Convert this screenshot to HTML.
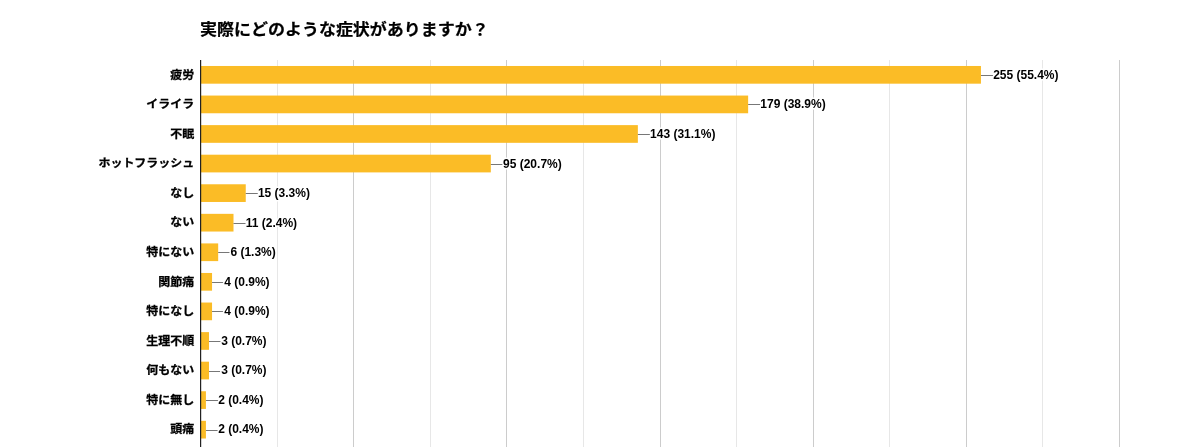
<!DOCTYPE html>
<html lang="ja"><head><meta charset="utf-8"><title>chart</title>
<style>html,body{margin:0;padding:0;background:#fff;}body{width:1200px;height:447px;overflow:hidden;}svg{display:block;}text{font-family:"Liberation Sans", "Noto Sans CJK JP", sans-serif;font-weight:bold;}</style></head><body>
<svg width="1200" height="447" viewBox="0 0 1200 447">
<rect width="1200" height="447" fill="#ffffff"/>
<text transform="translate(200 34.7) scale(1 0.94)" font-size="17" fill="#000" stroke="#000" stroke-width="0.25">実際にどのような症状がありますか？</text>
<rect x="277" y="60" width="1" height="387" fill="#e7e7e7"/>
<rect x="353" y="60" width="1" height="387" fill="#cccccc"/>
<rect x="430" y="60" width="1" height="387" fill="#e7e7e7"/>
<rect x="506" y="60" width="1" height="387" fill="#cccccc"/>
<rect x="583" y="60" width="1" height="387" fill="#e7e7e7"/>
<rect x="660" y="60" width="1" height="387" fill="#cccccc"/>
<rect x="736" y="60" width="1" height="387" fill="#e7e7e7"/>
<rect x="813" y="60" width="1" height="387" fill="#cccccc"/>
<rect x="889" y="60" width="1" height="387" fill="#e7e7e7"/>
<rect x="966" y="60" width="1" height="387" fill="#cccccc"/>
<rect x="1042" y="60" width="1" height="387" fill="#e7e7e7"/>
<rect x="1119" y="60" width="1" height="387" fill="#cccccc"/>
<rect x="200.5" y="65.98" width="780.45" height="17.7" fill="#fbbc26"/>
<rect x="980.95" y="75.00" width="12" height="1" fill="#777"/>
<text x="993.15" y="78.53" font-size="12" fill="#000" stroke="#ffffff" stroke-width="3" stroke-linejoin="round" paint-order="stroke">255 (55.4%)</text>
<text transform="translate(194.3 78.63) scale(1 0.92)" font-size="12" fill="#000" stroke="#000" stroke-width="0.3" text-anchor="end">疲労</text>
<rect x="200.5" y="95.56" width="547.64" height="17.7" fill="#fbbc26"/>
<rect x="748.14" y="104.00" width="12" height="1" fill="#777"/>
<text x="760.34" y="108.11" font-size="12" fill="#000" stroke="#ffffff" stroke-width="3" stroke-linejoin="round" paint-order="stroke">179 (38.9%)</text>
<text transform="translate(194.3 108.20) scale(1 0.92)" font-size="12" fill="#000" stroke="#000" stroke-width="0.3" text-anchor="end">イライラ</text>
<rect x="200.5" y="125.12" width="437.36" height="17.7" fill="#fbbc26"/>
<rect x="637.86" y="134.00" width="12" height="1" fill="#777"/>
<text x="650.06" y="137.67" font-size="12" fill="#000" stroke="#ffffff" stroke-width="3" stroke-linejoin="round" paint-order="stroke">143 (31.1%)</text>
<text transform="translate(194.3 137.78) scale(1 0.92)" font-size="12" fill="#000" stroke="#000" stroke-width="0.3" text-anchor="end">不眠</text>
<rect x="200.5" y="154.70" width="290.32" height="17.7" fill="#fbbc26"/>
<rect x="490.82" y="164.00" width="12" height="1" fill="#777"/>
<text x="503.02" y="168.25" font-size="12" fill="#000" stroke="#ffffff" stroke-width="3" stroke-linejoin="round" paint-order="stroke">95 (20.7%)</text>
<text transform="translate(194.3 167.35) scale(1 0.92)" font-size="12" fill="#000" stroke="#000" stroke-width="0.3" text-anchor="end">ホットフラッシュ</text>
<rect x="200.5" y="184.27" width="45.25" height="17.7" fill="#fbbc26"/>
<rect x="245.75" y="193.00" width="12" height="1" fill="#777"/>
<text x="257.95" y="196.81" font-size="12" fill="#000" stroke="#ffffff" stroke-width="3" stroke-linejoin="round" paint-order="stroke">15 (3.3%)</text>
<text transform="translate(194.3 196.92) scale(1 0.92)" font-size="12" fill="#000" stroke="#000" stroke-width="0.3" text-anchor="end">なし</text>
<rect x="200.5" y="213.84" width="33.00" height="17.7" fill="#fbbc26"/>
<rect x="233.50" y="223.00" width="12" height="1" fill="#777"/>
<text x="245.70" y="226.78" font-size="12" fill="#000" stroke="#ffffff" stroke-width="3" stroke-linejoin="round" paint-order="stroke">11 (2.4%)</text>
<text transform="translate(194.3 226.49) scale(1 0.92)" font-size="12" fill="#000" stroke="#000" stroke-width="0.3" text-anchor="end">ない</text>
<rect x="200.5" y="243.41" width="17.68" height="17.7" fill="#fbbc26"/>
<rect x="218.18" y="252.00" width="12" height="1" fill="#777"/>
<text x="230.38" y="255.95" font-size="12" fill="#000" stroke="#ffffff" stroke-width="3" stroke-linejoin="round" paint-order="stroke">6 (1.3%)</text>
<text transform="translate(194.3 256.06) scale(1 0.92)" font-size="12" fill="#000" stroke="#000" stroke-width="0.3" text-anchor="end">特にない</text>
<rect x="200.5" y="272.97" width="11.55" height="17.7" fill="#fbbc26"/>
<rect x="212.05" y="282.00" width="12" height="1" fill="#777"/>
<text x="224.25" y="285.52" font-size="12" fill="#000" stroke="#ffffff" stroke-width="3" stroke-linejoin="round" paint-order="stroke">4 (0.9%)</text>
<text transform="translate(194.3 285.62) scale(1 0.92)" font-size="12" fill="#000" stroke="#000" stroke-width="0.3" text-anchor="end">関節痛</text>
<rect x="200.5" y="302.54" width="11.55" height="17.7" fill="#fbbc26"/>
<rect x="212.05" y="311.00" width="12" height="1" fill="#777"/>
<text x="224.25" y="315.09" font-size="12" fill="#000" stroke="#ffffff" stroke-width="3" stroke-linejoin="round" paint-order="stroke">4 (0.9%)</text>
<text transform="translate(194.3 315.19) scale(1 0.92)" font-size="12" fill="#000" stroke="#000" stroke-width="0.3" text-anchor="end">特になし</text>
<rect x="200.5" y="332.12" width="8.49" height="17.7" fill="#fbbc26"/>
<rect x="208.99" y="341.00" width="12" height="1" fill="#777"/>
<text x="221.19" y="344.67" font-size="12" fill="#000" stroke="#ffffff" stroke-width="3" stroke-linejoin="round" paint-order="stroke">3 (0.7%)</text>
<text transform="translate(194.3 344.77) scale(1 0.92)" font-size="12" fill="#000" stroke="#000" stroke-width="0.3" text-anchor="end">生理不順</text>
<rect x="200.5" y="361.69" width="8.49" height="17.7" fill="#fbbc26"/>
<rect x="208.99" y="371.00" width="12" height="1" fill="#777"/>
<text x="221.19" y="374.24" font-size="12" fill="#000" stroke="#ffffff" stroke-width="3" stroke-linejoin="round" paint-order="stroke">3 (0.7%)</text>
<text transform="translate(194.3 374.34) scale(1 0.92)" font-size="12" fill="#000" stroke="#000" stroke-width="0.3" text-anchor="end">何もない</text>
<rect x="200.5" y="391.25" width="5.43" height="17.7" fill="#fbbc26"/>
<rect x="205.93" y="400.00" width="12" height="1" fill="#777"/>
<text x="218.13" y="403.81" font-size="12" fill="#000" stroke="#ffffff" stroke-width="3" stroke-linejoin="round" paint-order="stroke">2 (0.4%)</text>
<text transform="translate(194.3 403.91) scale(1 0.92)" font-size="12" fill="#000" stroke="#000" stroke-width="0.3" text-anchor="end">特に無し</text>
<rect x="200.5" y="420.82" width="5.43" height="17.7" fill="#fbbc26"/>
<rect x="205.93" y="430.00" width="12" height="1" fill="#777"/>
<text x="218.13" y="433.38" font-size="12" fill="#000" stroke="#ffffff" stroke-width="3" stroke-linejoin="round" paint-order="stroke">2 (0.4%)</text>
<text transform="translate(194.3 433.48) scale(1 0.92)" font-size="12" fill="#000" stroke="#000" stroke-width="0.3" text-anchor="end">頭痛</text>
<rect x="200" y="60" width="1.2" height="387" fill="#222"/>
</svg></body></html>
